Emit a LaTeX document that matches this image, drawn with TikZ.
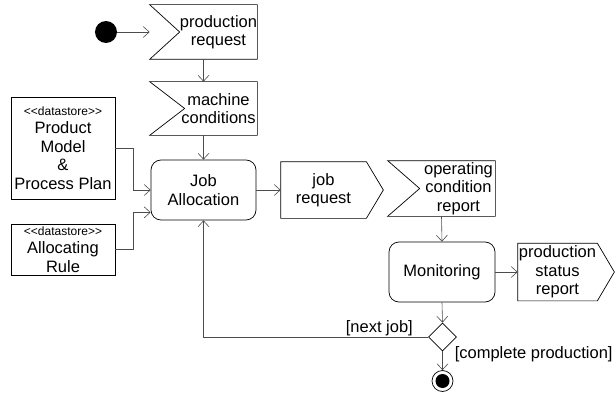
\documentclass[tikz,border=0pt]{standalone}
\usepackage{fontspec}
\setmainfont{Liberation Sans}
\usetikzlibrary{shapes, shapes.geometric, arrows, arrows.meta, positioning, calc}

\begin{document}
\begin{tikzpicture}[
  x=1pt, y=-1pt,
  font=\fontsize{16.5}{18.5}\selectfont,
  line width=.7pt,
  action/.style={draw, rounded corners=10pt, minimum width=105pt, minimum height=60pt, align=center},
  store/.style={draw, minimum width=104pt, inner sep=0pt, align=center},
  accept/.style={minimum width=107pt, minimum height=54pt, inner sep=0pt},
  sendsig/.style={minimum height=56pt, inner sep=0pt, align=center},
  flow/.style={->, >={Straight Barb[length=6pt,width=11pt]}, draw=black!70, line width=.6pt},
  stereo/.style={font=\fontsize{12}{14}\selectfont}]
  \useasboundingbox (0,0) rectangle (616,396);

  \node[circle, fill, minimum size=22pt, inner sep=0pt] (start) at (106,32) {};

  % input / output pins
  \node[accept, label={[align=center, xshift=15pt]center:production\\request}] (preq) at (203.5,32) {};
  \draw (preq.north west) -- (preq.north east) -- (preq.south east) -- (preq.south west) -- ($(preq.west)+(30,0)$) -- cycle;
  \node[accept, minimum height=53pt, label={[align=center, xshift=15pt]center:machine\\conditions}] (mcond) at (203.5,108.5) {};
  \draw (mcond.north west) -- (mcond.north east) -- (mcond.south east) -- (mcond.south west) -- ($(mcond.west)+(35,0)$) -- cycle;
  \node[accept, minimum height=55pt, label={[align=center, xshift=17pt]center:operating\\condition\\report}] (ocr) at (441.5,188.5) {};
  \draw (ocr.north west) -- (ocr.north east) -- (ocr.south east) -- (ocr.south west) -- ($(ocr.west)+(32,0)$) -- cycle;

  \node[sendsig, minimum width=85pt] (jreq) at (323.5,190) {job\\request};
  \draw (jreq.north west) -- (jreq.north east) -- ($(jreq.east)+(17,0)$) -- (jreq.south east) -- (jreq.south west) -- cycle;
  \node[sendsig, minimum width=79pt, minimum height=57pt] (pstat) at (557.5,272) {production\\status\\report};
  \draw (pstat.north west) -- (pstat.north east) -- ($(pstat.east)+(17,0)$) -- (pstat.south east) -- (pstat.south west) -- cycle;

  % data stores
  \node[store, minimum height=102pt] (pm) at (63,148) {{\fontsize{12}{14}\selectfont <\kern0pt<datastore>\kern0pt>}\\Product\\Model\\\&\\Process Plan};
  \node[store, minimum height=51pt] (ar) at (63,249.5) {{\fontsize{12}{14}\selectfont <\kern0pt<datastore>\kern0pt>}\\Allocating\\Rule};

  % actions
  \node[action] (jalloc) at (203.5,190) {Job\\Allocation};
  \node[action, minimum width=106pt] (mon) at (442,272) {Monitoring};
  \node[diamond, draw, aspect=1, minimum size=28pt, inner sep=0pt] (dec) at (442.5,337) {};
  \node[circle, draw, minimum size=21pt, inner sep=0pt] (stop) at (442.5,381) {};
  \node[circle, fill, minimum size=14pt, inner sep=0pt] at (stop) {};

  % flows
  \draw[flow] (start) -- (preq.west);
  \draw[flow] (preq.south) -- (mcond.north);
  \draw[flow] (mcond.south) -- (jalloc.north);
  \draw[flow] (pm.east) -- ++(18,0) |- (jalloc.west);
  \draw[flow] (ar.east) -- ++(18,0) |- ($(jalloc.south west)+(0,-8)$);
  \draw[flow] (jalloc.east) -- (jreq.west);
  \draw[flow] (ocr.south) -- (mon.north);
  \draw[flow] (mon.east) -- (pstat.west);
  \draw[flow] (mon.south) -- (dec.north);
  \draw[flow] (dec.west) node[anchor=south east, xshift=-14pt, inner sep=1pt] {[next job]}
    -- (jalloc.south |- dec.west) -- (jalloc.south);
  \draw[flow] (dec.south) -- node[pos=.15, right=11pt, inner sep=1pt] {[complete production]} (stop.north);
\end{tikzpicture}
\end{document}
